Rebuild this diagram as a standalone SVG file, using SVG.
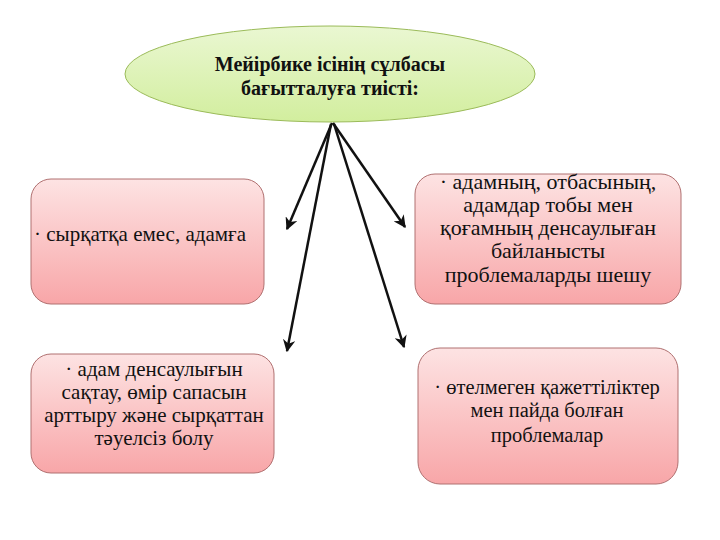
<svg xmlns="http://www.w3.org/2000/svg" width="720" height="540" viewBox="0 0 720 540">
<style>
.t{font-family:'Liberation Serif','Times New Roman',serif;font-size:21px;fill:#111;text-anchor:middle}
.b{font-weight:bold;font-size:20px}
.l{font-size:22px}
.s{font-size:20.5px}
.box{fill:url(#pink);stroke:#b07070;stroke-width:1}
.c{stroke:#111;stroke-width:2.5;fill:none;marker-end:url(#ah)}
</style>
<defs>
<linearGradient id="pink" x1="0" y1="0" x2="0" y2="1">
<stop offset="0" stop-color="#fde3e3"/>
<stop offset="1" stop-color="#f8a6a8"/>
</linearGradient>
<linearGradient id="green" x1="0" y1="0" x2="0" y2="1">
<stop offset="0" stop-color="#eaf7d2"/>
<stop offset="1" stop-color="#d2ee9e"/>
</linearGradient>
<marker id="ah" viewBox="0 0 10 10" refX="9" refY="5" markerWidth="5" markerHeight="5" orient="auto" markerUnits="strokeWidth">
<path d="M0,0 L10,5 L0,10 L3,5 z" fill="#111"/>
</marker>
</defs>
<rect width="720" height="540" fill="#fff"/>
<g id="top">
<ellipse cx="330" cy="74" rx="205" ry="48" fill="url(#green)" stroke="#9bbb59" stroke-width="1"/>
<text class="t b" x="330" y="71">Мейірбике ісінің сұлбасы</text>
<text class="t b" x="330" y="95">бағытталуға тиісті:</text>
</g>
<g id="connectors">
<line class="c" x1="332" y1="123" x2="287" y2="229"/>
<line class="c" x1="333" y1="123" x2="405" y2="227"/>
<line class="c" x1="331" y1="124" x2="287" y2="351"/>
<line class="c" x1="334" y1="124" x2="404" y2="347"/>
</g>
<g id="n1">
<rect class="box" x="31" y="179" width="233" height="125" rx="20"/>
<text class="t" x="140" y="241">· сырқатқа емес, адамға</text>
</g>
<g id="n2">
<rect class="box" x="415" y="174" width="266" height="130" rx="20"/>
<text class="t l" x="548" y="189">· адамның, отбасының,</text>
<text class="t l" x="548" y="212">адамдар тобы мен</text>
<text class="t l" x="548" y="235">қоғамның денсаулыған</text>
<text class="t l" x="548" y="258">байланысты</text>
<text class="t l" x="548" y="282">проблемаларды шешу</text>
</g>
<g id="n3">
<rect class="box" x="31" y="354" width="243" height="119" rx="20"/>
<text class="t" x="154" y="376">· адам денсаулығын</text>
<text class="t" x="154" y="399">сақтау, өмір сапасын</text>
<text class="t" x="154" y="422">арттыру және сырқаттан</text>
<text class="t" x="154" y="445">тәуелсіз болу</text>
</g>
<g id="n4">
<rect class="box" x="418" y="348" width="260" height="136" rx="22"/>
<text class="t s" x="547" y="394">· өтелмеген қажеттіліктер</text>
<text class="t s" x="547" y="417">мен пайда болған</text>
<text class="t s" x="547" y="442">проблемалар</text>
</g>
</svg>
